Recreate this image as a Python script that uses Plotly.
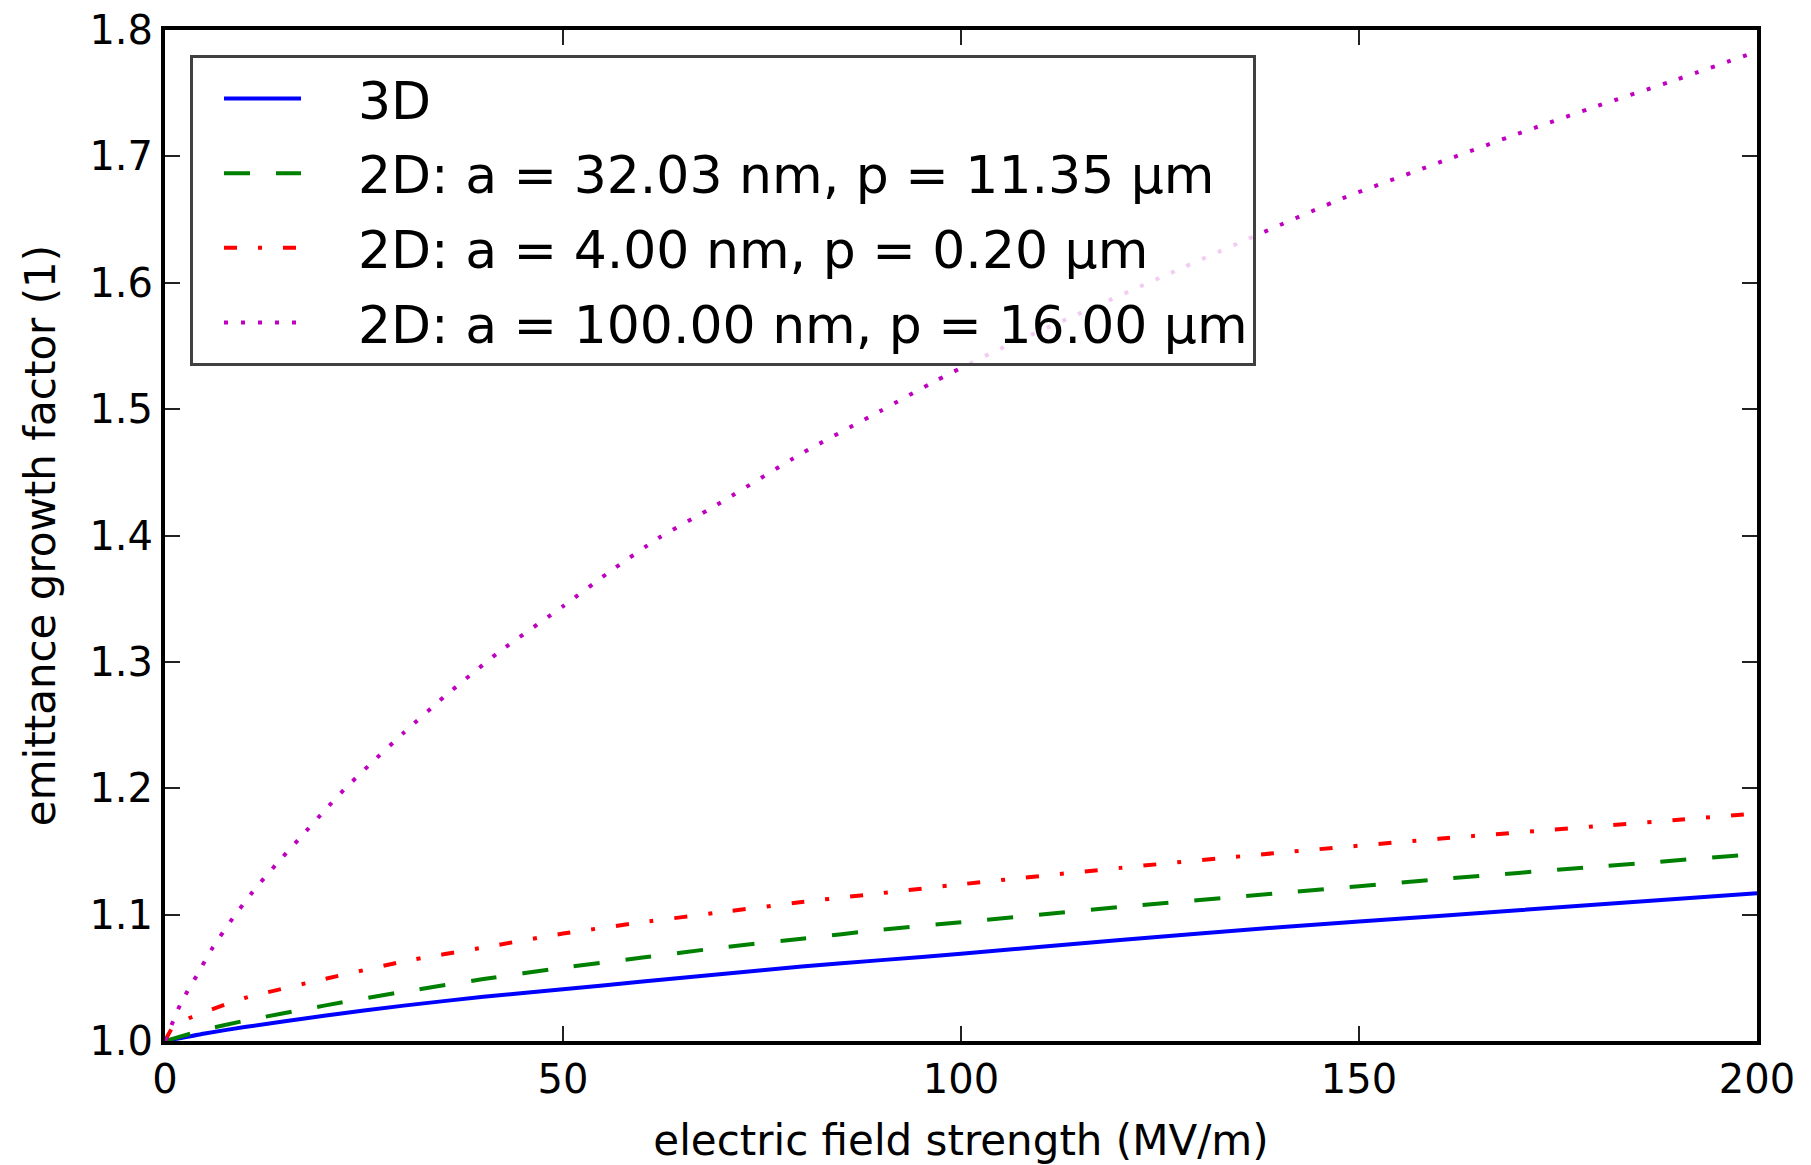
import plotly.graph_objects as go

# ---- data ----
field_3d = [0, 5, 10, 20, 30, 40, 50, 60, 70, 80, 90, 100, 120, 140, 160, 180, 200]
growth_3d = [1.0, 1.006, 1.011, 1.020, 1.028, 1.035, 1.041, 1.047, 1.053, 1.059, 1.064, 1.069,
             1.080, 1.090, 1.099, 1.108, 1.117]

field_2d_a = [0, 5, 10, 20, 30, 40, 50, 60, 70, 80, 90, 100, 120, 140, 160, 180, 200]
growth_2d_a = [1.0, 1.009, 1.016, 1.028, 1.039, 1.049, 1.058, 1.066, 1.074, 1.081, 1.088, 1.094,
               1.106, 1.117, 1.128, 1.138, 1.148]

field_2d_b = [0, 1, 3, 5, 10, 20, 30, 40, 50, 60, 70, 80, 90, 100, 120, 140, 160, 180, 200]
growth_2d_b = [1.0, 1.011, 1.018, 1.023, 1.034, 1.049, 1.063, 1.074, 1.085, 1.094, 1.102, 1.110, 1.117,
               1.124, 1.137, 1.149, 1.160, 1.170, 1.180]

field_2d_c = [0, 2, 4, 6, 8.5, 11, 14, 17, 20, 22.5, 25.6, 30, 35, 42, 50, 56, 62, 69, 80, 90, 97,
              105, 115, 125, 138, 148, 160, 170, 180, 190, 200]
growth_2d_c = [1.0, 1.03, 1.052, 1.074, 1.097, 1.118, 1.14, 1.161, 1.182, 1.199, 1.218, 1.244, 1.272,
               1.308, 1.344, 1.372, 1.398, 1.423, 1.465, 1.499, 1.523, 1.548, 1.576, 1.604, 1.640,
               1.667, 1.695, 1.718, 1.740, 1.761, 1.783]

names = ["3D",
         "2D: a = 32.03 nm, p = 11.35 μm",
         "2D: a = 4.00 nm, p = 0.20 μm",
         "2D: a = 100.00 nm, p = 16.00 μm"]

x_ticks = [0, 50, 100, 150, 200]
y_ticks = [1.0, 1.1, 1.2, 1.3, 1.4, 1.5, 1.6, 1.7, 1.8]

FONT = "DejaVu Sans"
GAP = "\u2003"  # visual gap between legend sample and label

fig = go.Figure()
series = [
    (field_3d, growth_3d, "#0000ff", "solid"),
    (field_2d_a, growth_2d_a, "#008000", "26px,26px"),
    (field_2d_b, growth_2d_b, "#ff0000", "13px,21px,4px,21px"),
    (field_2d_c, growth_2d_c, "#bf00bf", "4px,13px"),
]
for i, ((xs, ys, col, dash), nm) in enumerate(zip(series, names)):
    fig.add_trace(go.Scatter(x=xs, y=ys, mode="lines", name=GAP + nm, legendgroup=f"g{i}",
                             line=dict(color=col, width=4, dash=dash, shape="spline", smoothing=0.5)))

axis_common = dict(
    showline=True, linewidth=4, linecolor="black", mirror="ticks",
    ticks="inside", ticklen=15, tickwidth=1.5, tickcolor="#222222",
    showgrid=False, zeroline=False, automargin=False,
    tickfont=dict(family=FONT, size=40, color="black"),
)

fig.update_xaxes(range=[0, 200], tickvals=x_ticks, ticktext=[str(v) for v in x_ticks],
                 title=dict(text="electric field strength (MV/m)", font=dict(family=FONT, size=42, color="black"),
                            standoff=28),
                 **axis_common)
fig.update_yaxes(range=[1.0, 1.8], tickvals=y_ticks, ticktext=[f"{v:.1f}" for v in y_ticks],
                 title=dict(text="emittance growth factor (1)", font=dict(family=FONT, size=42, color="black"),
                            standoff=22),
                 **axis_common)

fig.update_layout(
    width=1811, height=1165,
    margin=dict(l=165, r=54, t=30, b=124, autoexpand=False),
    paper_bgcolor="white", plot_bgcolor="white",
    font=dict(family=FONT, color="black"),
    showlegend=True,
    legend=dict(x=0.0157, y=0.975, xanchor="left", yanchor="top",
                bgcolor="rgba(255,255,255,0.8)", bordercolor="#404040", borderwidth=3,
                font=dict(family=FONT, size=52, color="black"),
                itemwidth=77, indentation=26, tracegroupgap=4, traceorder="grouped"),
)

fig.write_html("out.html")
